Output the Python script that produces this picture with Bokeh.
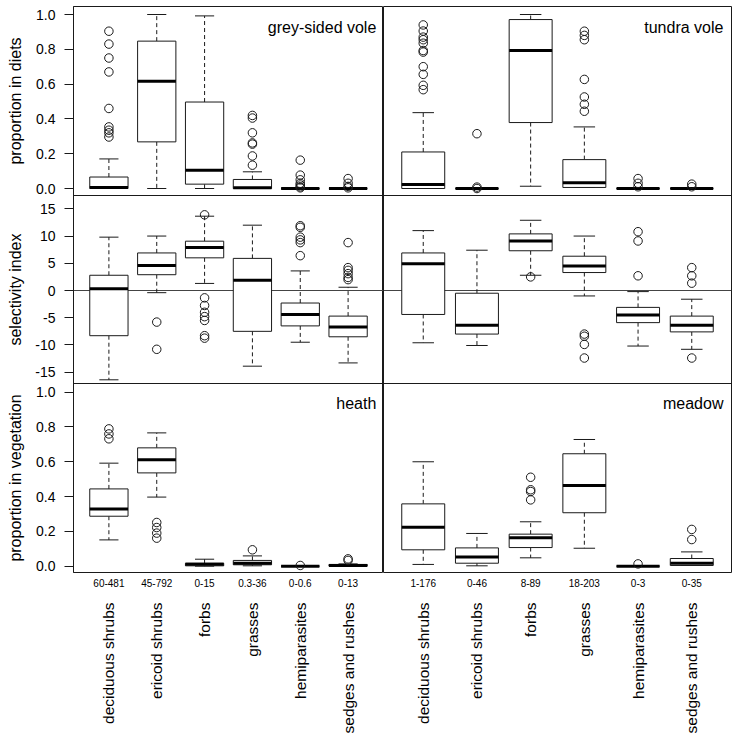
import numpy as np
from bokeh.plotting import figure
from bokeh.models import Range1d, FixedTicker, LinearAxis, Label
from bokeh.core.properties import value
from bokeh.layouts import row
from bokeh.embed import file_html
from bokeh.resources import INLINE

FONT = "Liberation Sans"

categories = ["deciduous shrubs", "ericoid shrubs", "forbs", "grasses",
              "hemiparasites", "sedges and rushes"]
heath_ranges = ["60-481", "45-792", "0-15", "0.3-36", "0-0.6", "0-13"]
meadow_ranges = ["1-176", "0-46", "8-89", "18-203", "0-3", "0-35"]

# grey-sided vole: proportion in diets
gsv_diet_lo = [0.0, 0.0, 0.0, 0.0, 0.0, 0.0]
gsv_diet_q1 = [0.0, 0.268, 0.025, 0.0, 0.0, 0.0]
gsv_diet_med = [0.006, 0.616, 0.105, 0.004, 0.0, 0.0]
gsv_diet_q3 = [0.066, 0.847, 0.497, 0.052, 0.0, 0.0]
gsv_diet_hi = [0.17, 1.0, 0.992, 0.096, 0.0, 0.0]
gsv_diet_out = [[0.904, 0.83, 0.75, 0.67, 0.46, 0.354, 0.335, 0.32, 0.296], [], [],
                [0.42, 0.405, 0.32, 0.262, 0.255, 0.187, 0.134],
                [0.163, 0.077, 0.05, 0.03, 0.02, 0.01, 0.004],
                [0.057, 0.03, 0.012, 0.004]]

# tundra vole: proportion in diets
tv_diet_lo = [0.0, 0.0, 0.013, 0.006, 0.0, 0.0]
tv_diet_q1 = [0.0, 0.0, 0.379, 0.006, 0.0, 0.0]
tv_diet_med = [0.023, 0.0, 0.793, 0.033, 0.0, 0.0]
tv_diet_q3 = [0.21, 0.0, 0.971, 0.166, 0.0, 0.0]
tv_diet_hi = [0.436, 0.0, 1.0, 0.354, 0.0, 0.0]
tv_diet_out = [[0.94, 0.905, 0.87, 0.855, 0.835, 0.793, 0.784, 0.70, 0.656, 0.593, 0.568],
               [0.315, 0.008, 0.0], [],
               [0.904, 0.88, 0.855, 0.627, 0.526, 0.484, 0.444],
               [0.057, 0.03, 0.01], [0.025, 0.01]]

# grey-sided vole: selectivity index
gsv_sel_lo = [-16.4, -0.4, 1.3, -13.9, -9.5, -13.3]
gsv_sel_q1 = [-8.3, 2.9, 6.0, -7.5, -6.5, -8.5]
gsv_sel_med = [0.3, 4.6, 7.9, 1.9, -4.4, -6.7]
gsv_sel_q3 = [2.8, 6.9, 9.06, 5.9, -2.3, -4.7]
gsv_sel_hi = [9.8, 10.0, 13.65, 12.0, 3.6, 0.6]
gsv_sel_out = [[], [-5.8, -10.8],
               [13.9, -1.35, -2.75, -4.0, -4.8, -5.5, -8.3, -8.75], [],
               [11.9, 11.6, 9.8, 9.3, 8.8, 6.4],
               [8.8, 4.2, 3.7, 3.1, 2.4, 2.0]]

# tundra vole: selectivity index
tv_sel_lo = [-9.6, -10.1, 2.8, -1.0, -10.2, -10.8]
tv_sel_q1 = [-4.4, -8.0, 7.3, 3.3, -5.9, -7.6]
tv_sel_med = [4.9, -6.4, 9.1, 4.5, -4.5, -6.4]
tv_sel_q3 = [6.9, -0.5, 10.4, 6.3, -3.1, -4.7]
tv_sel_hi = [11.0, 7.4, 12.9, 10.0, -0.2, -1.6]
tv_sel_out = [[], [], [2.5], [-8.0, -8.4, -9.9, -12.4],
              [10.8, 9.1, 2.7], [4.2, 2.7, 1.35, -12.4]]

# heath: proportion in vegetation
heath_lo = [0.151, 0.397, 0.0, 0.002, 0.0, 0.0]
heath_q1 = [0.287, 0.536, 0.002, 0.008, 0.0, 0.0]
heath_med = [0.328, 0.611, 0.011, 0.017, 0.0, 0.004]
heath_q3 = [0.444, 0.68, 0.017, 0.033, 0.0, 0.01]
heath_hi = [0.592, 0.766, 0.04, 0.059, 0.0, 0.013]
heath_out = [[0.789, 0.76, 0.732], [0.251, 0.222, 0.19, 0.161], [], [0.094], [0.004],
             [0.042, 0.033]]

# meadow: proportion in vegetation
meadow_lo = [0.01, 0.002, 0.048, 0.103, 0.0, 0.004]
meadow_q1 = [0.094, 0.017, 0.107, 0.307, 0.0, 0.004]
meadow_med = [0.224, 0.052, 0.163, 0.464, 0.0, 0.017]
meadow_q3 = [0.358, 0.105, 0.184, 0.646, 0.0, 0.044]
meadow_hi = [0.6, 0.188, 0.255, 0.728, 0.0, 0.082]
meadow_out = [[], [], [0.511, 0.439, 0.429, 0.381], [], [0.013], [0.211, 0.153]]

prop_ticks = [0.0, 0.2, 0.4, 0.6, 0.8, 1.0]
sel_ticks = [-15, -10, -5, 0, 5, 10, 15]

LINE = "#1a1a1a"
TOP = 6          # top border above the panels
BOTTOM = 160     # room below the panels for the category labels

# panel stack (top to bottom): name, pixel height, y limits, ticks, format, axis title
panels = [
    ("diet", 189, (-0.0402, 1.046), prop_ticks, "%.1f", "proportion in diets"),
    ("sel", 188, (-17.08, 17.45), sel_ticks, "%d", "selectivity index"),
    ("veg", 189, (-0.0364, 1.0498), prop_ticks, "%.1f", "proportion in vegetation"),
]
HT = sum(pp[1] for pp in panels)
offsets = {}
_b = HT
for name, h, lim, *_ in panels:
    _b -= h
    offsets[name] = _b


def extra_range(name, h, lim):
    b = offsets[name]
    upp = (lim[1] - lim[0]) / h
    return Range1d(lim[0] - b * upp, lim[1] + (HT - b - h) * upp)


def make_fig(fw, mbl, mbr):
    p = figure(frame_width=fw, frame_height=HT,
               x_range=Range1d(0.26, 6.74), y_range=Range1d(0, HT),
               output_backend="svg", toolbar_location=None,
               x_axis_location=None, y_axis_location=None,
               min_border_left=mbl, min_border_right=mbr,
               min_border_top=TOP, min_border_bottom=BOTTOM)
    p.grid.visible = False
    p.outline_line_color = LINE
    p.outline_line_width = 1
    p.outline_line_alpha = 1
    p.background_fill_color = "white"
    p.border_fill_color = "white"
    for name, h, lim, *_ in panels:
        p.extra_y_ranges[name] = extra_range(name, h, lim)
    seps = [offsets[name] for name, *_ in panels if offsets[name] > 0]
    p.hspan(y=seps, line_color=LINE, line_width=1)
    p.hspan(y=[0], line_color="#444444", line_width=1, y_range_name="sel")
    return p


def title_strip(width):
    s = figure(frame_width=width, frame_height=HT,
               x_range=Range1d(0, width), y_range=Range1d(0, HT),
               output_backend="svg", toolbar_location=None,
               x_axis_location=None, y_axis_location=None,
               min_border_left=0, min_border_right=0,
               min_border_top=TOP, min_border_bottom=BOTTOM)
    s.grid.visible = False
    s.outline_line_color = None
    s.background_fill_color = "white"
    s.border_fill_color = "white"
    ys = [offsets[name] + h / 2 for name, h, *_ in panels]
    texts = [pp[5] for pp in panels]
    s.text(x=[15] * len(ys), y=ys, text=texts, angle=np.pi / 2,
           text_align="center", text_baseline="middle",
           text_font=value(FONT), text_font_size="16px", text_color="black")
    return s


def add_yaxis(p):
    ticks, labels = [], {}
    for name, h, lim, tks, fmt, title in panels:
        b = offsets[name]
        for t in tks:
            px = round(b + (t - lim[0]) / (lim[1] - lim[0]) * h, 4)
            ticks.append(px)
            labels[px] = fmt % t
    ax = LinearAxis(ticker=FixedTicker(ticks=ticks), major_label_overrides=labels)
    ax.axis_line_color = LINE
    ax.major_tick_line_color = LINE
    ax.major_tick_out = 9
    ax.major_tick_in = 0
    ax.minor_tick_out = 0
    ax.minor_tick_in = 0
    ax.major_label_standoff = 9
    ax.major_label_text_font = FONT
    ax.major_label_text_font_size = "14px"
    ax.major_label_text_color = "black"
    p.add_layout(ax, "left")


def add_xaxes(p, ranges):
    t = list(range(1, len(categories) + 1))
    ax1 = LinearAxis(ticker=FixedTicker(ticks=t),
                     major_label_overrides={i: s for i, s in zip(t, ranges)})
    ax1.axis_line_color = None
    ax1.major_tick_line_color = None
    ax1.major_tick_out = 0
    ax1.major_tick_in = 0
    ax1.minor_tick_out = 0
    ax1.minor_tick_in = 0
    ax1.major_label_standoff = 6
    ax1.major_label_text_font = FONT
    ax1.major_label_text_font_size = "10px"
    ax1.major_label_text_color = "black"
    p.add_layout(ax1, "below")
    ax2 = LinearAxis(ticker=FixedTicker(ticks=t),
                     major_label_overrides={i: s for i, s in zip(t, categories)})
    ax2.axis_line_color = None
    ax2.major_tick_line_color = None
    ax2.major_tick_out = 0
    ax2.major_tick_in = 0
    ax2.minor_tick_out = 0
    ax2.minor_tick_in = 0
    ax2.major_label_standoff = 13
    ax2.major_label_orientation = np.pi / 2
    ax2.major_label_text_font = FONT
    ax2.major_label_text_font_size = "15.5px"
    ax2.major_label_text_color = "black"
    p.add_layout(ax2, "below")


def draw_boxes(p, rname, lo, q1, med, q3, hi, outs):
    x = np.arange(1, len(categories) + 1, dtype=float)
    lo, q1, med, q3, hi = map(np.asarray, (lo, q1, med, q3, hi))
    hw, sw = 0.4, 0.2
    kw = dict(y_range_name=rname)
    p.segment(x, q3, x, hi, line_color=LINE, line_width=1, line_dash="4 3", **kw)
    p.segment(x, q1, x, lo, line_color=LINE, line_width=1, line_dash="4 3", **kw)
    p.segment(x - sw, hi, x + sw, hi, line_color=LINE, line_width=1, **kw)
    p.segment(x - sw, lo, x + sw, lo, line_color=LINE, line_width=1, **kw)
    p.quad(left=x - hw, right=x + hw, bottom=q1, top=q3,
           fill_color="white", line_color=LINE, line_width=1, **kw)
    p.segment(x - hw, med, x + hw, med, line_color="black", line_width=3,
              line_cap="butt", **kw)
    ox = [i + 1 for i, o in enumerate(outs) for _ in o]
    oy = [v for o in outs for v in o]
    p.scatter(ox, oy, marker="circle", size=8.5, fill_color=None,
              line_color=LINE, line_width=1, **kw)


def add_title(p, text, rname, y):
    p.add_layout(Label(x=6.59, y=y, y_range_name=rname, text=text,
                       text_align="right", text_baseline="middle",
                       text_font=FONT, text_font_size="16px",
                       text_color="black"))


strip = title_strip(30)
left = make_fig(310, 43, 0)
right = make_fig(348, 0, 5)
add_yaxis(left)
add_xaxes(left, heath_ranges)
add_xaxes(right, meadow_ranges)

draw_boxes(left, "diet", gsv_diet_lo, gsv_diet_q1, gsv_diet_med, gsv_diet_q3, gsv_diet_hi, gsv_diet_out)
draw_boxes(right, "diet", tv_diet_lo, tv_diet_q1, tv_diet_med, tv_diet_q3, tv_diet_hi, tv_diet_out)
draw_boxes(left, "sel", gsv_sel_lo, gsv_sel_q1, gsv_sel_med, gsv_sel_q3, gsv_sel_hi, gsv_sel_out)
draw_boxes(right, "sel", tv_sel_lo, tv_sel_q1, tv_sel_med, tv_sel_q3, tv_sel_hi, tv_sel_out)
draw_boxes(left, "veg", heath_lo, heath_q1, heath_med, heath_q3, heath_hi, heath_out)
draw_boxes(right, "veg", meadow_lo, meadow_q1, meadow_med, meadow_q3, meadow_hi, meadow_out)

add_title(left, "grey-sided vole", "diet", 0.925)
add_title(right, "tundra vole", "diet", 0.925)
add_title(left, "heath", "veg", 0.933)
add_title(right, "meadow", "veg", 0.933)

p = row(strip, left, right)

open("out.html", "w").write(file_html(p, INLINE))
